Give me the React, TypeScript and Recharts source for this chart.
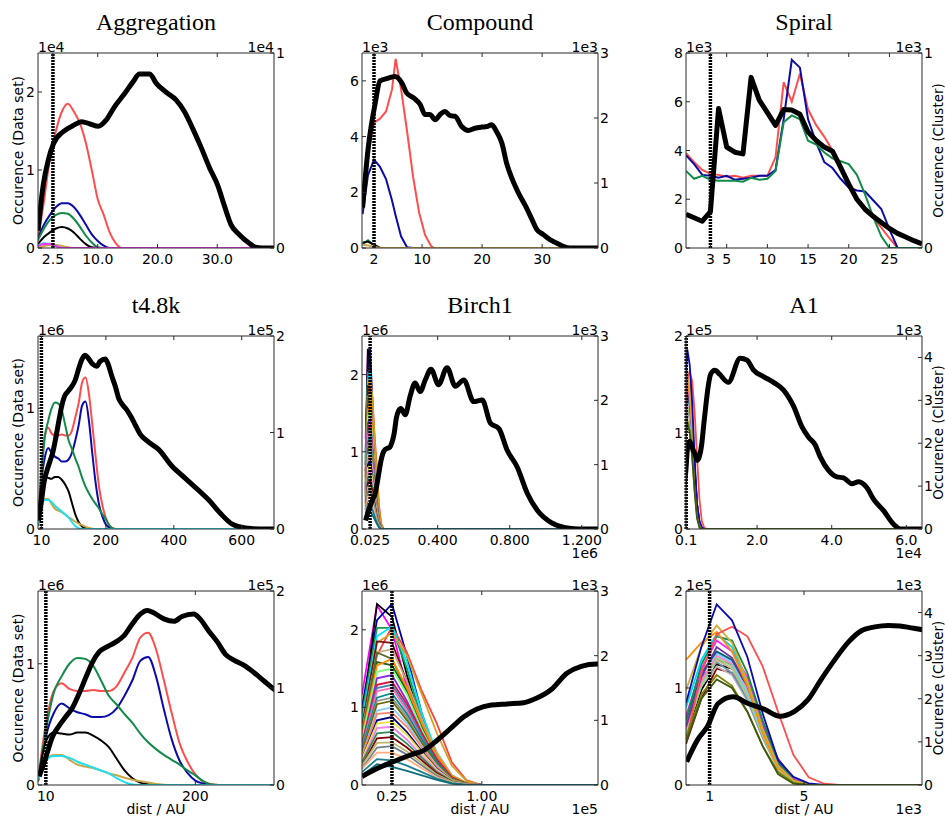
import React from 'react';
import { LineChart, Line, XAxis, YAxis, ReferenceLine } from 'recharts';

const SANS = '"DejaVu Sans", Verdana, sans-serif';
const SERIF = '"Liberation Serif", "Times New Roman", serif';
const FRAME = '#2b2b2b';

const RED = '#ff4d4d';
const BLUE = '#0b0ba8';
const GREEN = '#118a4a';
const GOLD = '#c9a545';
const CYAN = '#20dff0';
const MAGENTA = '#ff30ff';
const BLACK = '#000000';

// ---------- Aggregation (x in AU, data set x1e4 left, cluster x1e4 right)
const aggBlackX = [0, 0.9, 1.7, 2.6, 4.2, 5.9, 7.3, 8.7, 10.1, 11.4, 12.8, 14.5, 15.9, 17.0, 18.7, 19.8, 21.4, 23.1, 24.5, 25.9, 27.3, 28.7, 30.1, 31.2, 32.3, 33.7, 35.3, 36.4, 37.5, 39.5];
const aggBlackY = [0.22, 0.82, 1.12, 1.34, 1.49, 1.57, 1.62, 1.59, 1.56, 1.64, 1.81, 1.98, 2.13, 2.23, 2.23, 2.11, 2.0, 1.9, 1.75, 1.53, 1.29, 1.03, 0.8, 0.54, 0.3, 0.17, 0.065, 0.01, 0, 0];
const aggClusterX = [0, 1, 2, 3, 4, 5, 6, 7, 8, 9, 10, 11, 12, 13, 14, 39.5];
const aggRed = [0.04, 0.24, 0.46, 0.6, 0.7, 0.74, 0.7, 0.64, 0.54, 0.4, 0.25, 0.17, 0.08, 0.025, 0, 0];
const aggBlue = [0.05, 0.12, 0.17, 0.21, 0.23, 0.23, 0.21, 0.17, 0.12, 0.07, 0.036, 0.012, 0, 0, 0, 0];
const aggGreen = [0.04, 0.1, 0.144, 0.17, 0.18, 0.176, 0.15, 0.11, 0.064, 0.028, 0.004, 0, 0, 0, 0, 0];
const aggThin = [0.02, 0.056, 0.08, 0.1, 0.108, 0.1, 0.08, 0.048, 0.02, 0.004, 0, 0, 0, 0, 0, 0];
const aggGold = [0, 0.01, 0.016, 0.016, 0.01, 0.004, 0, 0, 0, 0, 0, 0, 0, 0, 0, 0];
const aggCyan = [0.012, 0.025, 0.022, 0.01, 0, 0, 0, 0, 0, 0, 0, 0, 0, 0, 0, 0];
const aggMagenta = [0.01, 0.02, 0.02, 0.01, 0, 0, 0, 0, 0, 0, 0, 0, 0, 0, 0, 0];

// ---------- Compound
const cmpBlackX = [0.1, 1.06, 2.2, 3.0, 4.1, 5.5, 6.6, 7.4, 8.6, 9.7, 10.5, 11.3, 12.2, 13.0, 13.8, 14.7, 15.5, 16.6, 17.7, 18.8, 19.9, 20.8, 21.6, 22.4, 23.3, 24.1, 25.0, 26.0, 27.2, 28.3, 29.1, 30.2, 31.3, 32.4, 33.5, 34.7, 39.3];
const cmpBlackY = [1.45, 3.64, 5.2, 6.0, 6.08, 6.16, 5.94, 5.58, 5.39, 5.15, 4.79, 4.79, 4.6, 4.79, 4.9, 4.75, 4.73, 4.36, 4.22, 4.3, 4.34, 4.36, 4.42, 4.18, 3.76, 3.03, 2.48, 2.0, 1.52, 1.03, 0.67, 0.48, 0.3, 0.18, 0.06, 0, 0];
const cmpClusterX = [0.1, 1, 2, 3, 4, 5, 5.6, 6.5, 7.5, 8.5, 9.5, 10.5, 11.5, 12, 39.3];
const cmpRed = [0.56, 1.41, 1.93, 1.99, 2.1, 2.44, 2.91, 2.45, 1.8, 1.1, 0.55, 0.2, 0.03, 0, 0];
const cmpBlue = [0.52, 1.12, 1.36, 1.25, 1.06, 0.73, 0.5, 0.18, 0.01, 0, 0, 0, 0, 0, 0];
const cmpGreen = [0.06, 0.12, 0.04, 0, 0, 0, 0, 0, 0, 0, 0, 0, 0, 0, 0];
const cmpThin = [0.08, 0.1, 0.05, 0, 0, 0, 0, 0, 0, 0, 0, 0, 0, 0, 0];
const cmpGold = [0.05, 0.04, 0.02, 0, 0, 0, 0, 0, 0, 0, 0, 0, 0, 0, 0];

// ---------- Spiral
const spiX = [0, 1, 2, 3, 4, 5, 6, 7, 8, 9, 10, 11, 12, 13, 14, 15, 16, 17, 18, 19, 20, 21, 22, 23, 24, 25, 26, 27, 28, 29];
const spiBlack = [1.38, 1.24, 1.1, 1.49, 5.72, 4.14, 3.93, 3.86, 7.0, 6.07, 5.55, 5.03, 5.68, 5.66, 5.49, 4.76, 4.41, 4.14, 3.97, 3.31, 2.62, 2.0, 1.59, 1.3, 1.05, 0.8, 0.6, 0.45, 0.3, 0.17];
const spiRed = [0.486, 0.44, 0.4, 0.38, 0.375, 0.365, 0.37, 0.36, 0.37, 0.37, 0.37, 0.465, 0.85, 0.75, 0.895, 0.71, 0.63, 0.57, 0.5, 0.41, 0.32, 0.26, 0.21, 0.155, 0.105, 0.05, 0, 0, 0, 0];
const spiBlue = [0.475, 0.43, 0.375, 0.37, 0.36, 0.37, 0.35, 0.355, 0.36, 0.37, 0.37, 0.4, 0.66, 0.965, 0.925, 0.66, 0.54, 0.44, 0.41, 0.355, 0.31, 0.295, 0.29, 0.245, 0.2, 0.095, 0, 0, 0, 0];
const spiGreen = [0.395, 0.355, 0.37, 0.35, 0.345, 0.345, 0.345, 0.34, 0.36, 0.35, 0.355, 0.395, 0.645, 0.68, 0.66, 0.55, 0.53, 0.49, 0.46, 0.445, 0.43, 0.375, 0.275, 0.16, 0.06, 0, 0, 0, 0, 0];

// ---------- t4.8k
const tBlackX = [1.5, 10, 18.5, 27, 35, 44, 52, 61, 69, 78, 88, 99, 109, 120, 130, 139, 147, 160, 173, 183, 198, 206, 217, 228, 238, 249, 261, 274, 287, 300, 326, 355, 395, 434, 473, 503, 537, 572, 611, 650, 695];
const tBlackY = [0.07, 0.23, 0.4, 0.49, 0.56, 0.64, 0.75, 0.89, 1.01, 1.1, 1.14, 1.18, 1.23, 1.33, 1.41, 1.44, 1.42, 1.37, 1.35, 1.39, 1.41, 1.37, 1.27, 1.18, 1.08, 1.03, 0.99, 0.93, 0.86, 0.79, 0.72, 0.66, 0.52, 0.42, 0.32, 0.24, 0.13, 0.04, 0.008, 0, 0];
const tClusterX = [0, 10, 20, 30, 40, 50, 60, 70, 80, 90, 100, 110, 120, 130, 140, 150, 160, 170, 180, 190, 200, 210, 220, 230, 695];
const tRed = [0.05, 0.63, 0.97, 1.05, 0.99, 0.97, 0.97, 0.98, 0.97, 0.97, 1.02, 1.16, 1.31, 1.52, 1.57, 1.4, 1.08, 0.74, 0.43, 0.24, 0.11, 0.035, 0.01, 0, 0];
const tBlue = [0.04, 0.5, 0.74, 0.84, 0.79, 0.75, 0.73, 0.7, 0.7, 0.72, 0.79, 0.92, 1.08, 1.28, 1.32, 1.12, 0.78, 0.47, 0.25, 0.125, 0.045, 0.015, 0, 0, 0];
const tGreen = [0.04, 0.56, 0.95, 1.12, 1.25, 1.31, 1.3, 1.23, 1.08, 0.92, 0.83, 0.73, 0.64, 0.53, 0.44, 0.37, 0.31, 0.26, 0.21, 0.15, 0.1, 0.04, 0.005, 0, 0];
const tThin = [0.04, 0.45, 0.54, 0.53, 0.52, 0.54, 0.54, 0.51, 0.46, 0.39, 0.27, 0.15, 0.07, 0.025, 0.008, 0, 0, 0, 0, 0, 0, 0, 0, 0, 0];
const tGold = [0.05, 0.25, 0.31, 0.31, 0.26, 0.21, 0.19, 0.175, 0.15, 0.12, 0.1, 0.075, 0.055, 0.04, 0.025, 0.01, 0.003, 0, 0, 0, 0, 0, 0, 0, 0];
const tCyan = [0.06, 0.25, 0.3, 0.3, 0.28, 0.24, 0.21, 0.18, 0.15, 0.12, 0.07, 0.03, 0.005, 0, 0, 0, 0, 0, 0, 0, 0, 0, 0, 0, 0];

// ---------- Birch1 (x in 1e5 AU)
const birchBlackX = [0, 0.13, 0.26, 0.41, 0.52, 0.63, 0.74, 0.85, 0.96, 1.08, 1.21, 1.35, 1.46, 1.58, 1.71, 1.83, 1.96, 2.2, 2.47, 2.75, 3.03, 3.31, 3.63, 4.05, 4.52, 4.98, 5.45, 6.0, 6.47, 6.93, 7.4, 7.86, 8.42, 8.98, 9.54, 10.28, 11.02, 11.77, 12.9];
const birchBlackY = [0.11, 0.215, 0.3, 0.39, 0.45, 0.58, 0.73, 0.88, 0.98, 1.03, 1.045, 1.06, 1.12, 1.23, 1.44, 1.53, 1.56, 1.48, 1.72, 1.89, 1.78, 1.93, 2.07, 1.87, 2.09, 1.85, 1.93, 1.65, 1.67, 1.37, 1.3, 1.02, 0.8, 0.46, 0.24, 0.087, 0.02, 0, 0];
const birchClusterX = [0, 0.125, 0.25, 0.375, 0.5, 0.625, 0.75, 0.875, 1.0, 12.9];
const birchClusters = [
  [1.4, 2.78, 2.4, 1.5, 0.8, 0.35, 0.1, 0.02, 0, 0],
  [1.2, 2.55, 2.8, 2.0, 1.1, 0.45, 0.12, 0.02, 0, 0],
  [1.0, 2.8, 2.6, 1.7, 0.9, 0.4, 0.1, 0.02, 0, 0],
  [0.9, 2.0, 2.45, 2.05, 1.45, 0.95, 0.35, 0.07, 0, 0],
  [1.1, 2.43, 2.43, 1.8, 1.0, 0.45, 0.12, 0.02, 0, 0],
  [1.0, 2.3, 2.45, 1.9, 1.1, 0.5, 0.15, 0.03, 0, 0],
  [0.8, 2.2, 2.35, 2.0, 1.4, 0.8, 0.3, 0.06, 0, 0],
  [0.9, 2.22, 2.2, 1.6, 0.95, 0.4, 0.12, 0.02, 0, 0],
  [0.85, 2.05, 2.1, 1.6, 1.0, 0.5, 0.15, 0.03, 0, 0],
  [0.8, 2.05, 1.95, 1.45, 0.85, 0.4, 0.1, 0.02, 0, 0],
  [0.7, 1.9, 1.85, 1.45, 0.9, 0.45, 0.12, 0.02, 0, 0],
  [0.75, 1.85, 1.95, 1.5, 0.95, 0.45, 0.14, 0.03, 0, 0],
  [0.7, 1.75, 1.8, 1.4, 0.85, 0.4, 0.1, 0.02, 0, 0],
  [0.6, 1.65, 1.7, 1.3, 0.8, 0.38, 0.1, 0.02, 0, 0],
  [0.65, 1.55, 1.6, 1.25, 0.8, 0.4, 0.12, 0.02, 0, 0],
  [0.6, 1.5, 1.55, 1.2, 0.75, 0.35, 0.1, 0.02, 0, 0],
  [0.55, 1.45, 1.5, 1.15, 0.7, 0.33, 0.09, 0.02, 0, 0],
  [0.55, 1.35, 1.42, 1.1, 0.7, 0.35, 0.1, 0.02, 0, 0],
  [0.5, 1.3, 1.35, 1.05, 0.65, 0.3, 0.08, 0.01, 0, 0],
  [0.5, 1.25, 1.3, 1.0, 0.65, 0.32, 0.1, 0.02, 0, 0],
  [0.45, 1.15, 1.2, 0.95, 0.6, 0.3, 0.08, 0.01, 0, 0],
  [0.45, 1.1, 1.12, 0.9, 0.58, 0.28, 0.08, 0.01, 0, 0],
  [0.4, 1.0, 1.05, 0.82, 0.52, 0.25, 0.07, 0.01, 0, 0],
  [0.4, 0.95, 0.98, 0.78, 0.5, 0.24, 0.07, 0.01, 0, 0],
  [0.35, 0.88, 0.9, 0.7, 0.45, 0.22, 0.06, 0.01, 0, 0],
  [0.35, 0.8, 0.82, 0.64, 0.42, 0.2, 0.06, 0.01, 0, 0],
  [0.3, 0.72, 0.74, 0.58, 0.38, 0.18, 0.05, 0.01, 0, 0],
  [0.3, 0.65, 0.66, 0.52, 0.34, 0.16, 0.05, 0.01, 0, 0],
  [0.25, 0.58, 0.6, 0.47, 0.3, 0.14, 0.04, 0.01, 0, 0],
  [0.25, 0.5, 0.5, 0.4, 0.26, 0.12, 0.04, 0.01, 0, 0],
  [0.2, 0.4, 0.38, 0.3, 0.2, 0.1, 0.03, 0, 0, 0],
  [0.15, 0.32, 0.28, 0.22, 0.15, 0.08, 0.02, 0, 0, 0],
];
const birchColors = ['#ff00ff', '#0000b0', '#000000', '#ff4040', '#1a9850', '#00e5ff', '#d4a020', '#7a1010', '#c8a878', '#556b2f', '#1f5f1f', '#ff8c00', '#7fff7f', '#8a2be2', '#dc143c', '#4682b4', '#ff69b4', '#008b8b', '#909090', '#6b6b00', '#87cefa', '#fa8072', '#000080', '#e8e040', '#ee82ee', '#2e8b57', '#800000', '#bdb76b', '#708090', '#ffb07a', '#1b7f8f', '#0c6f7f'];

// ---------- A1 (x in 1e3 AU)
const a1BlackX = [0.03, 0.5, 0.9, 1.36, 1.99, 2.63, 3.33, 3.97, 4.6, 5.17, 5.73, 6.3, 6.87, 7.43, 8.0, 8.57, 9.06, 9.55, 10.05, 12.3, 15.47, 17.3, 19.0, 21.7, 24.4, 27.1, 29.8, 32.0, 33.8, 35.6, 36.9, 39.1, 41.4, 43.2, 45.4, 47.2, 49.4, 51.2, 53.9, 56.6, 58.4, 64.2];
const a1BlackY = [0.24, 0.47, 0.6, 0.84, 0.91, 0.84, 0.78, 0.71, 0.76, 0.88, 1.09, 1.29, 1.47, 1.59, 1.63, 1.645, 1.64, 1.62, 1.6, 1.52, 1.77, 1.75, 1.65, 1.58, 1.52, 1.44, 1.27, 1.06, 0.95, 0.87, 0.75, 0.61, 0.54, 0.53, 0.47, 0.49, 0.43, 0.31, 0.19, 0.05, 0, 0];
const a1ClusterX = [0, 0.65, 1.3, 1.95, 2.6, 3.25, 3.9, 4.55, 5.2, 5.85, 6.5, 64.2];
const a1Clusters = [
  [0.95, 2.0, 2.7, 2.6, 2.1, 1.3, 0.5, 0.12, 0, 0, 0, 0],
  [1.1, 2.2, 2.8, 2.7, 2.2, 1.4, 0.6, 0.15, 0, 0, 0, 0],
  [1.2, 2.3, 2.75, 2.55, 1.95, 1.1, 0.35, 0.06, 0, 0, 0, 0],
  [1.4, 2.5, 2.85, 2.6, 2.0, 1.1, 0.4, 0.08, 0, 0, 0, 0],
  [1.3, 2.4, 2.9, 2.8, 2.3, 1.4, 0.55, 0.12, 0, 0, 0, 0],
  [1.2, 2.35, 2.9, 2.7, 2.05, 1.15, 0.38, 0.07, 0, 0, 0, 0],
  [1.25, 2.3, 2.95, 2.75, 2.1, 1.15, 0.4, 0.08, 0, 0, 0, 0],
  [1.3, 2.4, 3.0, 2.8, 2.2, 1.25, 0.45, 0.1, 0, 0, 0, 0],
  [1.45, 2.55, 3.05, 2.85, 2.15, 1.2, 0.4, 0.08, 0, 0, 0, 0],
  [1.5, 2.6, 3.1, 2.9, 2.3, 1.35, 0.5, 0.12, 0, 0, 0, 0],
  [1.35, 2.5, 3.2, 2.95, 2.3, 1.35, 0.5, 0.1, 0, 0, 0, 0],
  [1.6, 2.7, 3.35, 3.1, 2.5, 1.45, 0.6, 0.15, 0, 0, 0, 0],
  [1.5, 2.8, 3.45, 3.35, 2.6, 1.5, 0.55, 0.12, 0, 0, 0, 0],
  [1.8, 2.9, 3.5, 3.2, 2.4, 1.3, 0.45, 0.1, 0, 0, 0, 0],
  [2.9, 3.3, 3.55, 3.1, 2.3, 1.2, 0.4, 0.1, 0, 0, 0, 0],
  [2.2, 3.2, 3.7, 3.3, 2.4, 1.3, 0.45, 0.1, 0, 0, 0, 0],
  [1.0, 2.6, 3.5, 3.67, 3.45, 2.75, 1.7, 0.7, 0.18, 0.03, 0, 0],
  [1.9, 3.2, 4.19, 3.82, 2.97, 1.66, 0.58, 0.19, 0.04, 0, 0, 0],
  [1.1, 2.1, 2.55, 2.3, 1.7, 0.9, 0.3, 0.05, 0, 0, 0, 0],
  [1.0, 2.0, 2.45, 2.25, 1.7, 0.9, 0.25, 0.03, 0, 0, 0, 0],
];
const a1Colors = ['#8b0000', '#000000', '#b8b8b8', '#7090b0', '#8b4513', '#d2b48c', '#80e080', '#ff80c0', '#80c8ff', '#006070', '#7030a0', '#ff20ff', '#138a48', '#00d8f0', '#ff8c00', '#d4aa30', '#ff4d4d', '#0a0ab0', '#808000', '#3d5a10'];

// ---------- layout
const COLS = [38, 362, 686];
const ROWS = [53, 336, 591];
const HEIGHTS = [195, 193, 194];
const PW = 236;
const ML = 40;
const MT = 30;

type Curve = { color: string; width: number; xs: number[]; ys: number[] };

interface PanelCfg {
  col: number;
  row: number;
  title?: string;
  xDomain: [number, number];
  xTicks: number[];
  xLabels: string[];
  lDomain: [number, number];
  lTicks: number[];
  rDomain: [number, number];
  rTicks: number[];
  refX: number;
  offL: string;
  offR: string;
  xOffBelow?: string;
  xOffLabel?: string;
  curve: 'linear' | 'monotone';
  blackCurve: 'linear' | 'monotone';
  black: Curve;
  clusters: Curve[];
}

const c = (color: string, xs: number[], ys: number[], width = 2): Curve => ({ color, width, xs, ys });

const aggClusters = [
  c(RED, aggClusterX, aggRed), c(BLUE, aggClusterX, aggBlue), c(GREEN, aggClusterX, aggGreen),
  c(BLACK, aggClusterX, aggThin), c(GOLD, aggClusterX, aggGold), c(CYAN, aggClusterX, aggCyan),
  c(MAGENTA, aggClusterX, aggMagenta),
];
const cmpClusters = [
  c(RED, cmpClusterX, cmpRed), c(BLUE, cmpClusterX, cmpBlue), c(GREEN, cmpClusterX, cmpGreen),
  c(BLACK, cmpClusterX, cmpThin), c(GOLD, cmpClusterX, cmpGold),
];
const spiClusters = [c(RED, spiX, spiRed), c(BLUE, spiX, spiBlue), c(GREEN, spiX, spiGreen)];
const tClusters = [
  c(RED, tClusterX, tRed), c(BLUE, tClusterX, tBlue), c(GREEN, tClusterX, tGreen),
  c(BLACK, tClusterX, tThin), c(GOLD, tClusterX, tGold), c(CYAN, tClusterX, tCyan),
];
const birchCurves = birchClusters.map((ys, i) => c(birchColors[i], birchClusterX, ys, 1.8));
const a1Curves = a1Clusters.map((ys, i) => c(a1Colors[i], a1ClusterX, ys, 1.8));

const tBlack = c(BLACK, tBlackX, tBlackY, 5);
const birchBlack = c(BLACK, birchBlackX, birchBlackY, 5);
const a1Black = c(BLACK, a1BlackX, a1BlackY, 5);

const panels: PanelCfg[] = [
  {
    col: 0, row: 0, title: 'Aggregation', xDomain: [0, 39.5], xTicks: [2.5, 10, 20, 30], xLabels: ['2.5', '10.0', '20.0', '30.0'],
    lDomain: [0, 2.5], lTicks: [0, 1, 2], rDomain: [0, 1], rTicks: [0, 1], refX: 2.5, offL: '1e4', offR: '1e4',
    curve: 'monotone', blackCurve: 'monotone', black: c(BLACK, aggBlackX, aggBlackY, 5), clusters: aggClusters,
  },
  {
    col: 1, row: 0, title: 'Compound', xDomain: [0, 39.3], xTicks: [2, 10, 20, 30], xLabels: ['2', '10', '20', '30'],
    lDomain: [0, 7], lTicks: [0, 2, 4, 6], rDomain: [0, 3], rTicks: [0, 1, 2, 3], refX: 2, offL: '1e3', offR: '1e3',
    curve: 'linear', blackCurve: 'monotone', black: c(BLACK, cmpBlackX, cmpBlackY, 5), clusters: cmpClusters,
  },
  {
    col: 2, row: 0, title: 'Spiral', xDomain: [0, 29], xTicks: [3, 5, 10, 15, 20, 25], xLabels: ['3', '5', '10', '15', '20', '25'],
    lDomain: [0, 8], lTicks: [0, 2, 4, 6, 8], rDomain: [0, 1], rTicks: [0, 1], refX: 3, offL: '1e3', offR: '1e3',
    curve: 'linear', blackCurve: 'linear', black: c(BLACK, spiX, spiBlack, 5), clusters: spiClusters,
  },
  {
    col: 0, row: 1, title: 't4.8k', xDomain: [0, 695], xTicks: [10, 200, 400, 600], xLabels: ['10', '200', '400', '600'],
    lDomain: [0, 1.6], lTicks: [0, 1], rDomain: [0, 2], rTicks: [0, 1, 2], refX: 10, offL: '1e6', offR: '1e5',
    curve: 'monotone', blackCurve: 'monotone', black: tBlack, clusters: tClusters,
  },
  {
    col: 1, row: 1, title: 'Birch1', xDomain: [-0.2, 12.9], xTicks: [0.25, 4, 8, 12], xLabels: ['0.025', '0.400', '0.800', '1.200'],
    lDomain: [0, 2.5], lTicks: [0, 1, 2], rDomain: [0, 3], rTicks: [0, 1, 2, 3], refX: 0.25, offL: '1e6', offR: '1e3',
    xOffBelow: '1e6', curve: 'linear', blackCurve: 'monotone', black: birchBlack, clusters: birchCurves,
  },
  {
    col: 2, row: 1, title: 'A1', xDomain: [0.95, 64.2], xTicks: [1, 20, 40, 60], xLabels: ['0.1', '2.0', '4.0', '6.0'],
    lDomain: [0, 2], lTicks: [0, 1, 2], rDomain: [0, 4.5], rTicks: [0, 1, 2, 3, 4], refX: 1, offL: '1e5', offR: '1e3',
    xOffBelow: '1e4', curve: 'linear', blackCurve: 'monotone', black: a1Black, clusters: a1Curves,
  },
  {
    col: 0, row: 2, xDomain: [0, 300], xTicks: [10, 200], xLabels: ['10', '200'],
    lDomain: [0, 1.6], lTicks: [0, 1], rDomain: [0, 2], rTicks: [0, 1, 2], refX: 10, offL: '1e6', offR: '1e5',
    curve: 'monotone', blackCurve: 'monotone', black: tBlack, clusters: tClusters,
  },
  {
    col: 1, row: 2, xDomain: [0, 1.97], xTicks: [0.25, 1], xLabels: ['0.25', '1.00'],
    lDomain: [0, 2.5], lTicks: [0, 1, 2], rDomain: [0, 3], rTicks: [0, 1, 2, 3], refX: 0.25, offL: '1e6', offR: '1e3',
    xOffLabel: '1e5', curve: 'linear', blackCurve: 'monotone', black: birchBlack, clusters: birchCurves,
  },
  {
    col: 2, row: 2, xDomain: [0, 10], xTicks: [1, 5], xLabels: ['1', '5'],
    lDomain: [0, 2], lTicks: [0, 1, 2], rDomain: [0, 4.5], rTicks: [0, 1, 2, 3, 4], refX: 1, offL: '1e5', offR: '1e3',
    xOffLabel: '1e3', curve: 'linear', blackCurve: 'monotone', black: a1Black, clusters: a1Curves,
  },
];

const pts = (cv: Curve) => cv.xs.map((x, i) => ({ x, y: cv.ys[i] }));

function Panel({ cfg }: { cfg: PanelCfg }) {
  const h = HEIGHTS[cfg.row];
  const bottom = MT + h;
  const right = ML + PW;

  const xTick = (t: any) => {
    const i = cfg.xTicks.findIndex((v) => Math.abs(v - t.payload.value) < 1e-9);
    return (
      <g>
        <line x1={t.x} x2={t.x} y1={bottom} y2={bottom - 4} stroke={FRAME} />
        <line x1={t.x} x2={t.x} y1={MT} y2={MT + 4} stroke={FRAME} />
        <text x={t.x} y={bottom + 16} textAnchor="middle" fontFamily={SANS} fontSize={14} fill="#000">
          {cfg.xLabels[i]}
        </text>
      </g>
    );
  };
  const lTick = (t: any) => (
    <g>
      <line x1={ML} x2={ML + 4} y1={t.y} y2={t.y} stroke={FRAME} />
      <text x={ML - 3} y={t.y + 5} textAnchor="end" fontFamily={SANS} fontSize={14} fill="#000">
        {String(t.payload.value)}
      </text>
    </g>
  );
  const rTick = (t: any) => (
    <g>
      <line x1={right} x2={right - 4} y1={t.y} y2={t.y} stroke={FRAME} />
      <text x={right + 2} y={t.y + 5} textAnchor="start" fontFamily={SANS} fontSize={14} fill="#000">
        {String(t.payload.value)}
      </text>
    </g>
  );

  return (
    <div style={{ position: 'absolute', left: COLS[cfg.col] - ML, top: ROWS[cfg.row] - MT }}>
      <LineChart width={PW + 2 * ML} height={h + MT + 30} margin={{ top: MT, right: 0, bottom: 0, left: 0 }}>
        <XAxis
          type="number" dataKey="x" domain={cfg.xDomain} allowDataOverflow ticks={cfg.xTicks} interval={0}
          height={30} tickLine={false} tickSize={0} axisLine={{ stroke: FRAME }} tick={xTick}
        />
        <YAxis
          yAxisId="L" orientation="left" type="number" width={ML} domain={cfg.lDomain} allowDataOverflow
          ticks={cfg.lTicks} interval={0} tickLine={false} tickSize={0} axisLine={{ stroke: FRAME }} tick={lTick}
        />
        <YAxis
          yAxisId="R" orientation="right" type="number" width={ML} domain={cfg.rDomain} allowDataOverflow
          ticks={cfg.rTicks} interval={0} tickLine={false} tickSize={0} axisLine={{ stroke: FRAME }} tick={rTick}
        />
        {cfg.clusters.map((cv, i) => (
          <Line
            key={i} yAxisId="R" data={pts(cv)} dataKey="y" type={cfg.curve} stroke={cv.color}
            strokeWidth={cv.width} dot={false} activeDot={false} isAnimationActive={false}
          />
        ))}
        <Line
          yAxisId="L" data={pts(cfg.black)} dataKey="y" type={cfg.blackCurve} stroke={BLACK}
          strokeWidth={cfg.black.width} strokeLinejoin="round" dot={false} activeDot={false} isAnimationActive={false}
        />
        <ReferenceLine yAxisId="L" y={cfg.lDomain[1]} stroke={FRAME} />
        <ReferenceLine yAxisId="L" x={cfg.refX} stroke="#000" strokeWidth={3.5} strokeDasharray="2 1" />
      </LineChart>
    </div>
  );
}

export default function App() {
  return (
    <div style={{ position: 'absolute', left: 0, top: 0, width: 945, height: 822, background: '#fff' }}>
      {panels.map((p, i) => (
        <Panel key={i} cfg={p} />
      ))}
      <svg width={945} height={822} style={{ position: 'absolute', left: 0, top: 0, pointerEvents: 'none' }}>
        {panels.map((p, i) => {
          const x0 = COLS[p.col];
          const y0 = ROWS[p.row];
          const h = HEIGHTS[p.row];
          const cx = x0 + PW / 2;
          return (
            <g key={i} fontFamily={SANS} fontSize={14} fill="#000">
              {p.title && (
                <text x={cx} y={y0 - 23} textAnchor="middle" fontFamily={SERIF} fontSize={24}>
                  {p.title}
                </text>
              )}
              <text x={x0} y={y0 - 1} textAnchor="start">{p.offL}</text>
              <text x={x0 + PW} y={y0 - 1} textAnchor="end">{p.offR}</text>
              {p.xOffBelow && (
                <text x={x0 + PW} y={y0 + h + 29} textAnchor="end">{p.xOffBelow}</text>
              )}
              {p.row === 2 && (
                <text x={cx} y={y0 + h + 29} textAnchor="middle">dist / AU</text>
              )}
              {p.xOffLabel && (
                <text x={x0 + PW} y={y0 + h + 29} textAnchor="end">{p.xOffLabel}</text>
              )}
              {p.col === 0 && (
                <text
                  x={18} y={y0 + h / 2} textAnchor="middle" dominantBaseline="central"
                  transform={`rotate(-90, 18, ${y0 + h / 2})`}
                >
                  Occurence (Data set)
                </text>
              )}
              {p.col === 2 && (
                <text
                  x={938} y={y0 + h / 2} textAnchor="middle" dominantBaseline="central" fontSize={13.5}
                  transform={`rotate(-90, 938, ${y0 + h / 2})`}
                >
                  Occurence (Cluster)
                </text>
              )}
            </g>
          );
        })}
      </svg>
    </div>
  );
}
